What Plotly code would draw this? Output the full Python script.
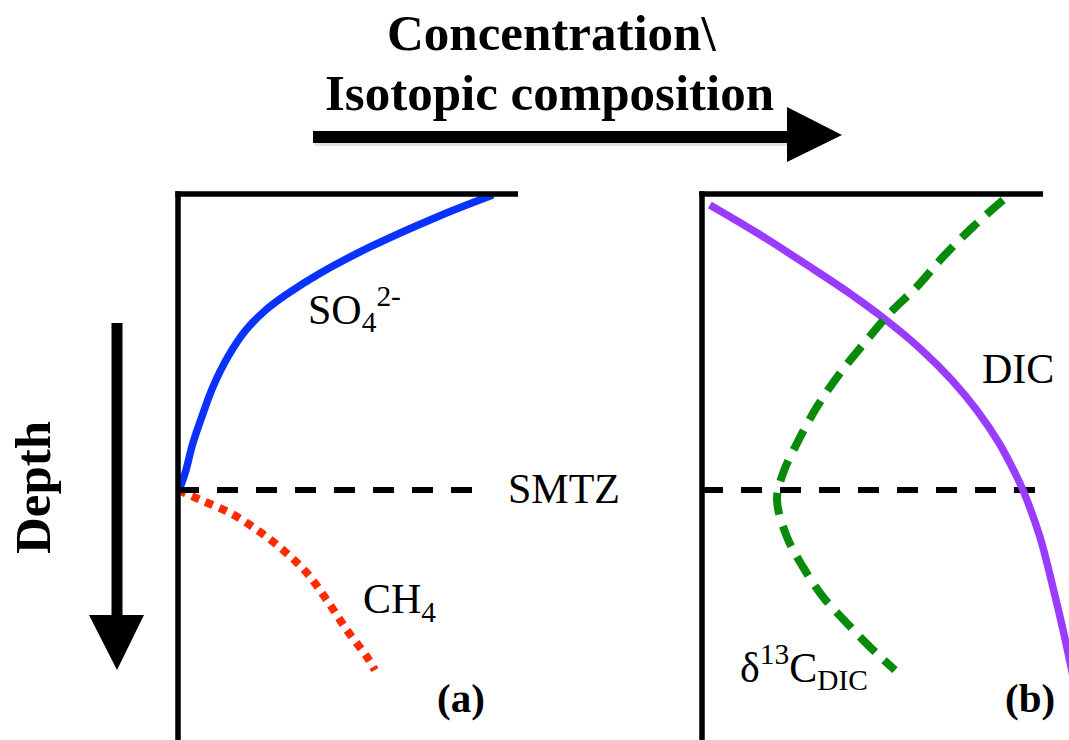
import plotly.graph_objects as go

W, H = 1069, 740

# ---- panel (a): pore-water concentration vs depth ----
# concentration runs 0-100 across the frame, depth 0-100 down the frame
so4_conc = [92.6, 76.2, 56.5, 41.8, 32.6, 25.9, 20.0, 14.7, 10.3, 7.4, 4.4, 2.1, 0.6]
so4_depth = [0.2, 4.2, 9.7, 14.5, 18.1, 21.2, 24.9, 29.8, 35.3, 40.1, 45.6, 51.1, 53.8]

ch4_conc = [0.0, 6.5, 15.3, 23.2, 30.9, 37.9, 43.8, 49.7, 55.6, 57.9]
ch4_depth = [54.2, 56.0, 58.4, 61.5, 65.2, 69.4, 74.4, 79.9, 84.8, 87.2]

# ---- panel (b): DIC concentration and its carbon isotopic composition ----
dic_val = [2.3, 16.1, 30.8, 43.1, 54.0, 64.5, 73.3, 80.6, 87.1, 91.8, 94.1,
           99.1, 102.9, 105.9, 107.6, 109.7]
dic_depth = [2.0, 7.1, 13.0, 18.1, 23.1, 28.6, 34.1, 39.6, 45.6, 51.1, 54.2,
             62.8, 72.0, 79.9, 84.8, 90.8]

d13c_val = [88.3, 79.5, 70.7, 63.0, 55.1, 48.4, 40.5, 33.7, 27.9, 23.8, 22.0,
            24.9, 29.6, 35.5, 42.5, 49.3, 56.6]
d13c_depth = [1.1, 6.0, 11.5, 17.0, 21.8, 26.7, 32.8, 39.0, 45.6, 51.1, 56.0,
              62.8, 68.3, 73.8, 78.6, 83.0, 87.2]

# sulfate-methane transition zone
smtz_depth = 54.2
smtz_a_extent = [0.0, 87.9]
smtz_b_extent = [0.0, 98.5]

FONT = "Liberation Serif"


def px(x):
    return x / W


def py(y):
    return 1 - y / H


fig = go.Figure()

line_a = dict(xaxis="x", yaxis="y")
line_b = dict(xaxis="x2", yaxis="y2")

fig.add_trace(go.Scatter(x=so4_conc, y=so4_depth, mode="lines",
                         line=dict(color="#0a32ff", width=7.5, shape="spline", smoothing=1.1),
                         **line_a))
fig.add_trace(go.Scatter(x=ch4_conc, y=ch4_depth, mode="lines",
                         line=dict(color="#ff2a00", width=8, dash="8px,7px",
                                   shape="spline", smoothing=1.0),
                         **line_a))
fig.add_trace(go.Scatter(x=smtz_a_extent, y=[smtz_depth, smtz_depth], mode="lines",
                         line=dict(color="black", width=6, dash="21px,18px"),
                         **line_a))

fig.add_trace(go.Scatter(x=smtz_b_extent, y=[smtz_depth, smtz_depth], mode="lines",
                         line=dict(color="black", width=6, dash="21px,18px"),
                         **line_b))
fig.add_trace(go.Scatter(x=dic_val, y=dic_depth, mode="lines",
                         line=dict(color="#9a3cff", width=7.5, shape="spline", smoothing=1.0),
                         **line_b))
fig.add_trace(go.Scatter(x=d13c_val, y=d13c_depth, mode="lines",
                         line=dict(color="#0a8a0a", width=8, dash="22px,12px",
                                   shape="spline", smoothing=1.0),
                         **line_b))

shapes = []
# frames of the two profiles (left depth axis + top axis)
for xr, yr in (("x", "y"), ("x2", "y2")):
    shapes.append(dict(type="line", xref=xr, yref=yr, x0=0, x1=0, y0=-0.5, y1=100,
                       line=dict(color="black", width=5.5)))
    shapes.append(dict(type="line", xref=xr, yref=yr, x0=-0.8, x1=100, y0=0, y1=0,
                       line=dict(color="black", width=5.5)))

# horizontal arrow: concentration / isotopic composition increase
shapes.append(dict(type="rect", xref="paper", yref="paper",
                   x0=px(315), x1=px(792), y0=py(146), y1=py(135),
                   line=dict(width=0), fillcolor="rgba(0,0,0,0.12)"))
shapes.append(dict(type="rect", xref="paper", yref="paper",
                   x0=px(313), x1=px(790), y0=py(143), y1=py(131),
                   line=dict(width=0), fillcolor="black"))
shapes.append(dict(type="path", xref="paper", yref="paper",
                   path=f"M {px(787)},{py(107)} L {px(842)},{py(135)} L {px(787)},{py(162)} Z",
                   line=dict(width=0), fillcolor="black"))

# vertical arrow: depth increases downward
shapes.append(dict(type="rect", xref="paper", yref="paper",
                   x0=px(111.5), x1=px(122.5), y0=py(323), y1=py(620),
                   line=dict(width=0), fillcolor="black"))
shapes.append(dict(type="path", xref="paper", yref="paper",
                   path=f"M {px(89)},{py(615)} L {px(144)},{py(615)} L {px(117)},{py(670)} Z",
                   line=dict(width=0), fillcolor="black"))

annotations = []


def label(text, x, y, size, bold=False, xanchor="left", angle=0):
    annotations.append(dict(
        text=f"<b>{text}</b>" if bold else text,
        x=px(x), y=py(y), xref="paper", yref="paper",
        xanchor=xanchor, yanchor="middle", showarrow=False, textangle=angle,
        font=dict(family=FONT, size=size, color="black")))


label("Concentration\\", 551, 33, 51, bold=True, xanchor="center")
label("Isotopic composition", 549, 93, 51, bold=True, xanchor="center")
label("Depth", 33, 488, 51, bold=True, xanchor="center", angle=-90)

label("SO<sub>4</sub><sup>2-</sup>", 306, 309, 42)
label("SMTZ", 506, 489, 42)
label("CH<sub>4</sub>", 361, 602, 42)
label("DIC", 980, 369, 42)
label("δ<sup>13</sup>C<sub>DIC</sub>", 738, 667, 42)
label("(a)", 461, 698, 41, bold=True, xanchor="center")
label("(b)", 1030, 698, 41, bold=True, xanchor="center")

axis_common = dict(showgrid=False, zeroline=False, showticklabels=False,
                   ticks="", showline=False, fixedrange=True)

y_domain = [0, (H - 184) / H]
y_range = [100, (184 - 194) / 5.46]

fig.update_layout(
    width=W, height=H,
    margin=dict(l=0, r=0, t=0, b=0),
    paper_bgcolor="white", plot_bgcolor="white",
    showlegend=False, hovermode=False,
    xaxis=dict(domain=[px(168), px(530)], range=[-10 / 3.4, 352 / 3.4],
               anchor="y", **axis_common),
    yaxis=dict(domain=y_domain, range=y_range, anchor="x", **axis_common),
    xaxis2=dict(domain=[px(692), 1.0], range=[-10 / 3.41, 367 / 3.41],
                anchor="y2", **axis_common),
    yaxis2=dict(domain=y_domain, range=y_range, anchor="x2", **axis_common),
    shapes=shapes,
    annotations=annotations,
)

fig.write_html("out.html")
